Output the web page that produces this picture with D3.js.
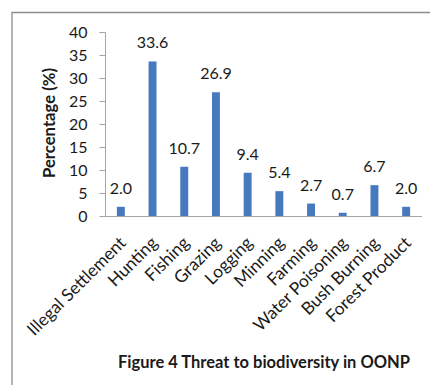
<!DOCTYPE html>
<html>
<head>
<meta charset="utf-8">
<script src="https://cdn.jsdelivr.net/npm/d3@7"></script>
<style>
  html, body { margin: 0; padding: 0; background: #fff; }
  svg { display: block; font-family: Lato, "Open Sans", sans-serif; }
</style>
</head>
<body>
<svg id="chart" width="430" height="385"></svg>
<script>
// Threats to biodiversity, share of responses (%)
const categories = ["Illegal Settlement", "Hunting", "Fishing", "Grazing", "Logging",
                    "Minning", "Farming", "Water Poisoning", "Bush Burning", "Forest Product"];
const percentages = [2.0, 33.6, 10.7, 26.9, 9.4, 5.4, 2.7, 0.7, 6.7, 2.0];
const yTicks = [0, 5, 10, 15, 20, 25, 30, 35, 40];
const yTitle = "Percentage (%)";
const caption = "Figure 4 Threat to biodiversity in OONP";

const svg = d3.select("#chart");
const plot = { left: 105, right: 422, top: 32, bottom: 216 };
const ink = "#1a1a1a";

// scale a text element's font so its rendered length equals `target`
function fitLength(sel, target) {
  const node = sel.node();
  const size = parseFloat(sel.style("font-size"));
  const len = node.getComputedTextLength();
  if (len > 0) sel.style("font-size", (size * target / len).toFixed(2) + "px");
  return sel;
}

// outer frame (left and top edges visible)
svg.append("path")
  .attr("d", "M12,385 L12,12.5 L430,12.5")
  .attr("fill", "none").attr("stroke", "#8c8c8c").attr("stroke-width", 1.3);

const x = d3.scaleBand().domain(categories)
  .range([plot.left, plot.right]).paddingInner(0.75).paddingOuter(0.375);
const y = d3.scaleLinear().domain([0, 40]).range([plot.bottom, plot.top]);

// y axis
const yAxis = svg.append("g")
  .attr("transform", `translate(${plot.left + 0.5},0)`)
  .call(d3.axisLeft(y).tickValues(yTicks).tickSize(6).tickPadding(12).tickFormat(d3.format("d")));
yAxis.select(".domain").attr("stroke", "#a6a6a6").attr("d", `M-6,${y(40)+0.5}H0V${y(0)+0.5}`);
yAxis.selectAll(".tick line").attr("stroke", "#a6a6a6");
yAxis.selectAll(".tick text").attr("fill", ink).style("font-size", "16px")
  .style("font-family", "Lato, sans-serif");

// x baseline
svg.append("line")
  .attr("x1", plot.left).attr("x2", plot.right)
  .attr("y1", plot.bottom + 0.5).attr("y2", plot.bottom + 0.5)
  .attr("stroke", "#a6a6a6");

// bars
svg.selectAll("rect.bar").data(percentages).join("rect")
  .attr("class", "bar")
  .attr("x", (d, i) => x(categories[i]))
  .attr("width", x.bandwidth())
  .attr("y", d => y(d))
  .attr("height", d => y(0) - y(d))
  .attr("fill", "#4679bd");

// value labels
svg.selectAll("text.val").data(percentages).join("text")
  .attr("class", "val")
  .attr("x", (d, i) => x(categories[i]) + x.bandwidth() / 2)
  .attr("y", d => y(d) - 13)
  .attr("text-anchor", "middle")
  .attr("fill", ink)
  .style("font-size", "16px")
  .text(d => d.toFixed(1));

// category labels, rotated
const cats = svg.selectAll("text.cat").data(categories).join("text")
  .attr("class", "cat")
  .attr("text-anchor", "end")
  .attr("fill", ink)
  .style("font-size", "17px")
  .attr("transform", d => `translate(${x(d) + x.bandwidth() / 2 + 6},${plot.bottom + 28}) rotate(-45)`)
  .text(d => d);
// size all category labels from the first one's length
const first = cats.filter((d, i) => i === 0);
fitLength(first, 131);
cats.style("font-size", first.style("font-size"));

// y axis title
fitLength(svg.append("text")
  .attr("transform", `translate(55,${123}) rotate(-90)`)
  .attr("text-anchor", "middle")
  .attr("fill", ink)
  .style("font-size", "16px").style("font-weight", "bold")
  .text(yTitle), 110);

// caption
fitLength(svg.append("text")
  .attr("x", 264).attr("y", 368)
  .attr("text-anchor", "middle")
  .attr("fill", ink)
  .style("font-size", "17px").style("font-weight", "bold")
  .text(caption), 292);
</script>
</body>
</html>
